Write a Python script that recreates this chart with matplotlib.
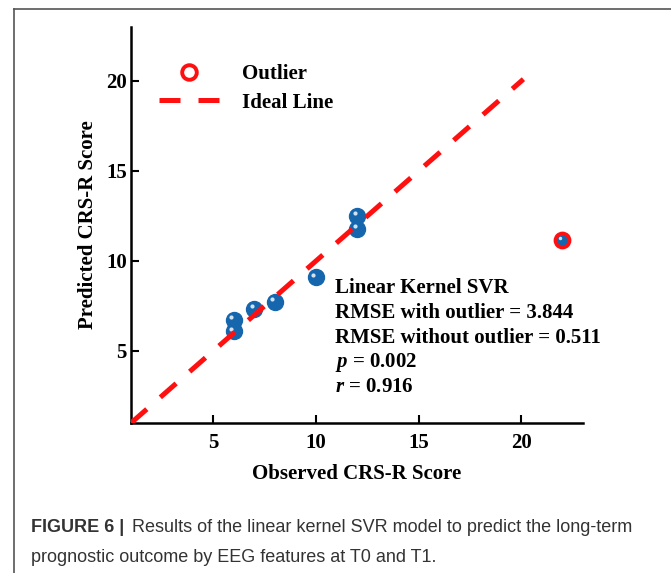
import numpy as np
import matplotlib
matplotlib.use("Agg")
import matplotlib.pyplot as plt
from matplotlib.lines import Line2D

# observed vs predicted CRS-R scores
observed = [6, 6, 7, 8, 10, 12, 12]
predicted = [6.75, 6.1, 7.35, 7.75, 9.1, 12.5, 11.8]
outlier_obs = [22]
outlier_pred = [11.15]
ideal_x = [1, 20.1]
ideal_y = [1, 20.1]
xticks = [5, 10, 15, 20]
yticks = [5, 10, 15, 20]

stats_lines = [
    "Linear Kernel SVR",
    "RMSE with outlier = 3.844",
    "RMSE without outlier = 0.511",
    r"$\mathbfit{p}$ = 0.002",
    r"$\mathbfit{r}$ = 0.916",
]

serif = "Liberation Serif"
blue = "#1666ad"
red = "#ff1010"

fig = plt.figure(figsize=(6.71, 5.73), dpi=100)
plt.rcParams["mathtext.fontset"] = "custom"
plt.rcParams["mathtext.bfit"] = "Liberation Serif:italic:bold"

# frame around the figure panel (cut off on the right and bottom)
fig.add_artist(Line2D([14 / 671, 14 / 671], [0, 1 - 9 / 573], color="#555555", lw=1.2))
fig.add_artist(Line2D([14 / 671, 1], [1 - 9 / 573, 1 - 9 / 573], color="#555555", lw=1.2))

ax = fig.add_axes([131 / 671, 1 - 423 / 573, 452 / 671, 396 / 573])
ax.set_xlim(1, 23)
ax.set_ylim(1, 23)

ax.plot(ideal_x, ideal_y, color=red, lw=3.6, dashes=(4.2, 3.6),
        dash_capstyle="butt", zorder=4)

# shaded "sphere" markers
ax.plot(observed, predicted, "o", ms=11.5, color=blue, mec=blue, zorder=3)
ax.plot(np.array(observed) - 0.12, np.array(predicted) + 0.15, "o", ms=3,
        color="#cfe3f5", mec="none", zorder=3.5)

ax.plot(outlier_obs, outlier_pred, "o", ms=10, color=blue, mec=red, mew=2.8, zorder=3)
ax.plot(np.array(outlier_obs) - 0.1, np.array(outlier_pred) + 0.12, "o", ms=2.5,
        color="#cfe3f5", mec="none", zorder=3.5)

for s in ["top", "right"]:
    ax.spines[s].set_visible(False)
for s in ["left", "bottom"]:
    ax.spines[s].set_linewidth(1.8)

ax.set_xticks(xticks)
ax.set_yticks(yticks)
ax.tick_params(direction="in", length=6, width=1.5)
ax.tick_params(axis="x", pad=7)
ax.tick_params(axis="y", pad=3)
for lab in ax.get_xticklabels() + ax.get_yticklabels():
    lab.set_fontfamily(serif)
    lab.set_fontweight("bold")
    lab.set_fontsize(15)

ax.set_xlabel("Observed CRS-R Score", fontfamily=serif, fontweight="bold",
              fontsize=15, labelpad=8)
ax.set_ylabel("Predicted CRS-R Score", fontfamily=serif, fontweight="bold",
              fontsize=15, labelpad=6)

handles = [
    Line2D([], [], marker="o", ls="none", ms=10.5, mfc="white", mec=red, mew=2.8),
    Line2D([], [], color=red, lw=3.6, dashes=(4.2, 3.6), dash_capstyle="butt"),
]
ax.legend(handles, ["Outlier", "Ideal Line"], loc="upper left",
          bbox_to_anchor=(28 / 452, 0.906), frameon=False, handlelength=2.9,
          handletextpad=1.1, labelspacing=0.4, borderpad=0, borderaxespad=0,
          prop={"family": serif, "weight": "bold", "size": 15})

for i, line in enumerate(stats_lines):
    ax.text(10.95, 8.5 - i * 1.38, line, fontfamily=serif, fontweight="bold",
            fontsize=15, va="center", ha="left")

# caption
cap_color = "#333333"
fig.text(31 / 671, 1 - 528 / 573, "FIGURE 6 |", fontfamily="Liberation Sans",
         fontweight="bold", fontsize=13, va="center", color=cap_color)
fig.text(132 / 671, 1 - 528 / 573,
         "Results of the linear kernel SVR model to predict the long-term",
         fontfamily="Liberation Sans", fontsize=13, va="center", color=cap_color)
fig.text(31 / 671, 1 - 557 / 573,
         "prognostic outcome by EEG features at T0 and T1.",
         fontfamily="Liberation Sans", fontsize=13, va="center", color=cap_color)

fig.savefig("out.png", dpi=100)
